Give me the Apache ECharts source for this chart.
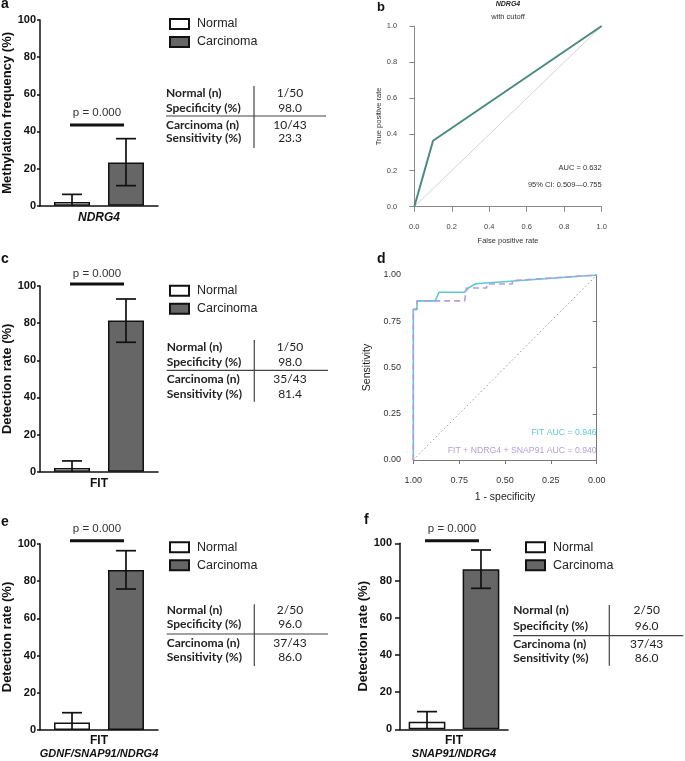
<!DOCTYPE html>
<html><head><meta charset="utf-8">
<script src="https://cdn.jsdelivr.net/npm/echarts@6/dist/echarts.min.js"></script>
<style>html,body{margin:0;padding:0;background:#fff}#c{width:685px;height:761px}</style>
</head><body><div id="c"></div>
<script>
// ---------------- data ----------------
const groupNames = ['Normal', 'Carcinoma'];
const tableLabels = ['Normal (n)', 'Specificity (%)', 'Carcinoma (n)', 'Sensitivity (%)'];
const pText = 'p = 0.000';

const aCategory = ['NDRG4'];
const aValues = [2.0, 23.3];
const aErrLow = [0, 10.8];
const aErrHigh = [6.1, 36.1];
const aPLine = 43.5;
const aTable = ['1/50', '98.0', '10/43', '23.3'];
const aYName = 'Methylation frequency (%)';

const cCategory = ['FIT'];
const cValues = [2.0, 81.4];
const cErrLow = [0, 69.7];
const cErrHigh = [5.8, 93.0];
const cPLine = 101.1;
const cTable = ['1/50', '98.0', '35/43', '81.4'];
const cYName = 'Detection rate (%)';

const eCategory = ['FIT'];
const eSubLabel = 'GDNF/SNAP91/NDRG4';
const eValues = [4.0, 86.0];
const eErrLow = [0, 75.8];
const eErrHigh = [9.3, 96.4];
const ePLine = 101.8;
const eTable = ['2/50', '96.0', '37/43', '86.0'];
const eYName = 'Detection rate (%)';

const fCategory = ['FIT'];
const fSubLabel = 'SNAP91/NDRG4';
const fValues = [4.0, 86.0];
const fErrLow = [0, 75.8];
const fErrHigh = [9.5, 96.4];
const fPLine = 101.4;
const fTable = ['2/50', '96.0', '37/43', '86.0'];
const fYName = 'Detection rate (%)';

const bTitle = 'NDRG4';
const bSubtitle = 'with cutoff';
const bFpr = [0, 0.1, 1];
const bTpr = [0, 0.365, 1];
const bDiagX = [0, 1];
const bDiagY = [0, 1];
const bAucText = 'AUC = 0.632';
const bCiText = '95% CI: 0.509\u20140.755';

const dFitSpec = [1, 1, 0.98, 0.98, 0.88, 0.86, 0.72, 0.70, 0.66, 0];
const dFitSens = [0, 0.814, 0.814, 0.860, 0.860, 0.907, 0.907, 0.930, 0.953, 1];
const dComboSpec = [1, 1, 0.98, 0.98, 0.72, 0.71, 0.60, 0.60, 0.46, 0.46, 0];
const dComboSens = [0, 0.814, 0.814, 0.860, 0.860, 0.930, 0.930, 0.951, 0.951, 0.970, 1];
const dDiagSpec = [1, 0];
const dDiagSens = [0, 1];
const dFitLabel = 'FIT AUC = 0.946';
const dComboLabel = 'FIT + NDRG4 + SNAP91 AUC = 0.940';

// ---------------- styles ----------------
const FONT = '"Liberation Sans", Arial, Helvetica, sans-serif';
const TFONT = 'Lato, "Open Sans", sans-serif';
const INK = '#111';

const option = {
  animation: false, backgroundColor: '#fff',
  grid: [], xAxis: [], yAxis: [], series: [], legend: [], graphic: []
};

function zip(a, b) { return a.map((v, i) => [v, b[i]]); }

function txt(x, y, text, font, fill, align, valign) {
  return { type: 'text', x: x, y: y, silent: true,
    style: { text: text, font: font, fill: fill || INK, textAlign: align || 'left', textVerticalAlign: valign || 'middle' } };
}
function ln(x1, y1, x2, y2, color, w) {
  return { type: 'line', silent: true, shape: { x1: x1, y1: y1, x2: x2, y2: y2 }, style: { stroke: color || '#333', lineWidth: w || 1 } };
}

function addBarPanel(p) {
  const gi = option.grid.length;
  option.grid.push({ left: p.left, top: p.top, width: p.width, height: p.height, outerBoundsMode: 'none' });
  const sub = p.sub;
  option.xAxis.push({
    type: 'category', gridIndex: gi, data: p.category,
    axisLine: { lineStyle: { color: INK, width: 1.5 } },
    axisTick: { alignWithLabel: true, length: 4, lineStyle: { color: INK, width: 1.5 } },
    axisLabel: {
      margin: p.xMargin, color: INK, fontFamily: FONT, fontWeight: 'bold', fontSize: 12,
      fontStyle: p.italic ? 'italic' : 'normal', lineHeight: 12,
      formatter: sub ? (v => '{m|' + v + '}\n{s|' + sub + '}') : undefined,
      rich: sub ? {
        m: { fontFamily: FONT, fontWeight: 'bold', fontSize: 12, lineHeight: 13, color: INK },
        s: { fontFamily: FONT, fontWeight: 'bold', fontStyle: 'italic', fontSize: p.subSize || 11, lineHeight: 13, color: INK }
      } : undefined
    }
  });
  option.yAxis.push({
    type: 'value', gridIndex: gi, min: 0, max: 100, interval: 20,
    axisLine: { show: true, lineStyle: { color: INK, width: 1.5 } },
    axisTick: { show: true, length: p.tickLen, lineStyle: { color: INK, width: 1.5 } },
    splitLine: { show: false },
    axisLabel: { margin: p.yMargin, color: INK, fontFamily: FONT, fontWeight: 'bold', fontSize: 11 },
    name: p.yName, nameLocation: 'middle', nameGap: p.nameGap,
    nameTextStyle: { color: INK, fontFamily: FONT, fontWeight: 'bold', fontSize: 13 }
  });
  groupNames.forEach((g, i) => option.series.push({
    type: 'bar', name: g, xAxisIndex: gi, yAxisIndex: gi, data: [p.values[i]],
    barWidth: (p.barFrac * 100) + '%', barGap: (p.barGap * 100) + '%',
    itemStyle: { color: i ? '#666666' : '#ffffff', borderColor: INK, borderWidth: 1.5 },
    emphasis: { disabled: true }
  }));
  const offOf = (api, i) => {
    const band = api.size([1, 0])[0];
    return band * p.barFrac * (1 + p.barGap) / 2 * (i === 0 ? -1 : 1);
  };
  option.series.push({
    type: 'custom', name: 'err' + gi, xAxisIndex: gi, yAxisIndex: gi, z: 5, clip: false, silent: true,
    data: groupNames.map((g, i) => [0, i, p.errLow[i], p.errHigh[i]]),
    encode: { x: 0, y: 3 },
    renderItem: function (params, api) {
      const i = api.value(1), lo = api.value(2), hi = api.value(3);
      const cl = api.coord([api.value(0), lo]);
      const ch = api.coord([api.value(0), hi]);
      const x = cl[0] + offOf(api, i);
      const cap = 10;
      const st = { stroke: INK, lineWidth: 1.7 };
      const ch2 = [
        { type: 'line', shape: { x1: x, y1: cl[1], x2: x, y2: ch[1] }, style: st },
        { type: 'line', shape: { x1: x - cap, y1: ch[1], x2: x + cap, y2: ch[1] }, style: st }
      ];
      if (lo > 0) ch2.push({ type: 'line', shape: { x1: x - cap, y1: cl[1], x2: x + cap, y2: cl[1] }, style: st });
      return { type: 'group', children: ch2 };
    }
  });
  option.series.push({
    type: 'custom', name: 'p' + gi, xAxisIndex: gi, yAxisIndex: gi, z: 5, clip: false, silent: true,
    data: [[0, p.pLine]], encode: { x: 0, y: 1 },
    renderItem: function (params, api) {
      const c = api.coord([api.value(0), api.value(1)]);
      const x1 = c[0] + offOf(api, 0) - 2, x2 = c[0] + offOf(api, 1) - 2;
      return { type: 'group', children: [
        { type: 'line', shape: { x1: x1, y1: c[1], x2: x2, y2: c[1] }, style: { stroke: INK, lineWidth: 3 } },
        { type: 'text', x: (x1 + x2) / 2, y: c[1] - p.pGap,
          style: { text: pText, font: '11.5px ' + FONT, fill: '#333', textAlign: 'center', textVerticalAlign: 'middle' } }
      ] };
    }
  });
  option.legend.push({
    data: groupNames, orient: 'vertical', left: p.legLeft, top: p.legTop,
    icon: 'rect', itemWidth: 19, itemHeight: 10, itemGap: 4, selectedMode: false,
    padding: 0,
    textStyle: { fontFamily: FONT, fontSize: 12.5, color: '#222', lineHeight: 14, padding: [0, 0, 0, 3] }
  });
  const t = p.table;
  tableLabels.forEach((lab, i) => {
    option.graphic.push(txt(t.x, t.rows[i], lab, 'bold 12px ' + TFONT, '#222', 'left'));
    option.graphic.push(txt(t.valX, t.rows[i], p.tableValues[i], '12px ' + TFONT, '#222', 'center'));
  });
  option.graphic.push(ln(t.x, t.hy, t.hx2, t.hy, '#444', 1.2));
  option.graphic.push(ln(t.vx, t.vy1, t.vx, t.vy2, '#444', 1.2));
  option.graphic.push(txt(p.letter.x, p.letter.y, p.letter.t, 'bold 14px ' + FONT, INK, 'left'));
}

addBarPanel({
  left: 40, top: 20, width: 118, height: 185.7, barFrac: 0.305, barGap: 0.5,
  category: aCategory, italic: true, xMargin: 6, tickLen: 3, yMargin: 4, nameGap: 23.5, yName: aYName,
  values: aValues, errLow: aErrLow, errHigh: aErrHigh, pLine: aPLine, pGap: 12,
  legLeft: 169, legTop: 17, tableValues: aTable,
  table: { x: 166, rows: [93, 108, 125, 138], hy: 116, hx2: 326, vx: 254, vy1: 86, vy2: 148, valX: 290 },
  letter: { x: 1, y: 4.5, t: 'a' }
});
addBarPanel({
  left: 40, top: 286, width: 118, height: 185.7, barFrac: 0.305, barGap: 0.5,
  category: cCategory, xMargin: 5.5, tickLen: 3, yMargin: 4, nameGap: 23.5, yName: cYName,
  values: cValues, errLow: cErrLow, errHigh: cErrHigh, pLine: cPLine, pGap: 10,
  legLeft: 169, legTop: 283.7, tableValues: cTable,
  table: { x: 166.7, rows: [347.3, 361.7, 379.3, 394], hy: 370.3, hx2: 328, vx: 254.3, vy1: 340, vy2: 401.7, valX: 290 },
  letter: { x: 1, y: 259, t: 'c' }
});
addBarPanel({
  left: 40, top: 544, width: 118, height: 186, barFrac: 0.305, barGap: 0.5,
  category: eCategory, sub: eSubLabel, subSize: 11, xMargin: 4, tickLen: 3, yMargin: 4, nameGap: 23.5, yName: eYName,
  values: eValues, errLow: eErrLow, errHigh: eErrHigh, pLine: ePLine, pGap: 11.4,
  legLeft: 169, legTop: 540.3, tableValues: eTable,
  table: { x: 166.7, rows: [610, 624, 643.3, 657.3], hy: 634, hx2: 328, vx: 254.3, vy1: 604.3, vy2: 666, valX: 290 },
  letter: { x: 1, y: 522, t: 'e' }
});
addBarPanel({
  left: 400, top: 543.3, width: 108, height: 186, barFrac: 0.34, barGap: 0.47,
  category: fCategory, sub: fSubLabel, subSize: 11, xMargin: 4.7, tickLen: 5, yMargin: 8, nameGap: 30.5, yName: fYName,
  values: fValues, errLow: fErrLow, errHigh: fErrHigh, pLine: fPLine, pGap: 11.4,
  legLeft: 525, legTop: 540.3, tableValues: fTable,
  table: { x: 513.3, rows: [610, 625.7, 644, 658.3], hy: 635.7, hx2: 683.3, vx: 609.3, vy1: 605, vy2: 665.7, valX: 646.7 },
  letter: { x: 364, y: 520, t: 'f' }
});

// ---------------- panel b ----------------
(function () {
  const gi = option.grid.length;
  const AX = '#8a8a8a';
  option.grid.push({ left: 414.3, top: 26, width: 187.4, height: 180.7, outerBoundsMode: 'none' });
  const common = {
    gridIndex: gi, type: 'value', min: 0, max: 1, interval: 0.2,
    axisLine: { show: true, lineStyle: { color: AX, width: 1 } },
    axisTick: { show: true, length: 5, lineStyle: { color: AX, width: 1 } },
    splitLine: { show: false },
    nameLocation: 'middle',
    nameTextStyle: { fontFamily: FONT, fontSize: 7.5, color: '#333' }
  };
  option.xAxis.push(Object.assign({}, common, {
    offset: 7.3, name: 'False positive rate', nameGap: 23,
    axisLabel: { margin: 8.5, fontFamily: FONT, fontSize: 7.5, color: '#444', formatter: v => v.toFixed(1) }
  }));
  option.yAxis.push(Object.assign({}, common, {
    offset: 7.6, name: 'True positive rate', nameGap: 21,
    axisLabel: { margin: 9.5, fontFamily: FONT, fontSize: 7.5, color: '#444', formatter: v => v.toFixed(1) }
  }));
  option.series.push({ type: 'line', xAxisIndex: gi, yAxisIndex: gi, data: zip(bDiagX, bDiagY), showSymbol: false, silent: true,
    lineStyle: { color: '#d4d4d4', width: 1 } });
  option.series.push({ type: 'line', xAxisIndex: gi, yAxisIndex: gi, data: zip(bFpr, bTpr), showSymbol: false, silent: true,
    lineStyle: { color: '#4a8a7f', width: 2 } });
  option.graphic.push(txt(508, 4.5, bTitle, 'italic bold 7px ' + FONT, '#222', 'center'));
  option.graphic.push(txt(508, 16.7, bSubtitle, '7.5px ' + FONT, '#333', 'center'));
  option.graphic.push(txt(601.7, 168, bAucText, '7.5px ' + FONT, '#333', 'right'));
  option.graphic.push(txt(601.7, 185, bCiText, '7.5px ' + FONT, '#333', 'right'));
  option.graphic.push(txt(377, 7.5, 'b', 'bold 13px ' + FONT, INK, 'left'));
})();

// ---------------- panel d ----------------
(function () {
  const gi = option.grid.length;
  const AX = '#777';
  option.grid.push({ left: 413.3, top: 275, width: 183.4, height: 185, outerBoundsMode: 'none' });
  const common = {
    gridIndex: gi, type: 'value', min: 0, max: 1, interval: 0.25,
    axisLine: { show: true, lineStyle: { color: AX, width: 1 } },
    axisTick: { show: true, length: 4, lineStyle: { color: AX, width: 1 } },
    splitLine: { show: false },
    nameLocation: 'middle',
    nameTextStyle: { fontFamily: FONT, fontSize: 10.5, color: '#222' }
  };
  option.xAxis.push(Object.assign({}, common, {
    inverse: true, offset: 8.3, name: '1 - specificity', nameGap: 23.5,
    axisLabel: { margin: 8, fontFamily: FONT, fontSize: 9, color: '#333', formatter: v => v.toFixed(2) }
  }));
  option.yAxis.push(Object.assign({}, common, {
    offset: 7.3, name: 'Sensitivity', nameGap: 33,
    axisLabel: { margin: 5, fontFamily: FONT, fontSize: 9, color: '#333', formatter: v => v.toFixed(2) }
  }));
  option.series.push({ type: 'line', xAxisIndex: gi, yAxisIndex: gi, data: zip(dDiagSpec, dDiagSens), showSymbol: false, silent: true,
    lineStyle: { color: '#999', width: 1, type: [1.5, 2.5] } });
  option.series.push({ type: 'line', xAxisIndex: gi, yAxisIndex: gi, data: zip(dFitSpec, dFitSens), showSymbol: false, silent: true,
    lineStyle: { color: '#5fc8d0', width: 1.6 } });
  option.series.push({ type: 'line', xAxisIndex: gi, yAxisIndex: gi, data: zip(dComboSpec, dComboSens), showSymbol: false, silent: true,
    lineStyle: { color: '#b49ddb', width: 1.6, type: [6, 4] } });
  option.graphic.push(txt(596.7, 432.7, dFitLabel, '8.7px ' + FONT, '#5fc8d0', 'right'));
  option.graphic.push(txt(596.7, 451, dComboLabel, '8.7px ' + FONT, '#b49ddb', 'right'));
  option.graphic.push(txt(377, 259.5, 'd', 'bold 14px ' + FONT, INK, 'left'));
})();

const chart = echarts.init(document.getElementById('c'), null, { renderer: 'canvas' });
chart.setOption(option);
</script>
</body></html>
